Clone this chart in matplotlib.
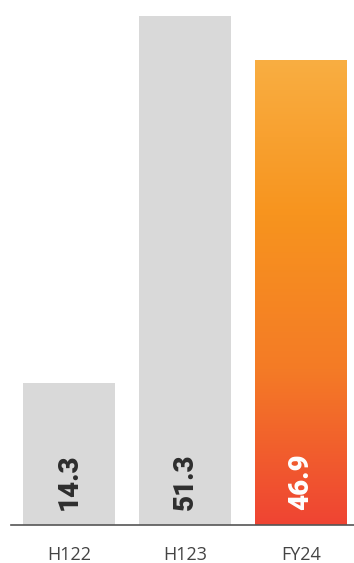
import numpy as np
import matplotlib.pyplot as plt
from matplotlib.colors import LinearSegmentedColormap

categories = ['H122', 'H123', 'FY24']
values = [14.3, 51.3, 46.9]
highlight = 'FY24'

grey = '#d9d9d9'
grad = LinearSegmentedColormap.from_list(
    'fy', ['#ef4433', '#f47b26', '#f7941e', '#f9ae42'])

fig = plt.figure(figsize=(3.54, 5.63), dpi=100)
ax = fig.add_axes([0, 38 / 563, 1, 525 / 563])

x = np.arange(len(categories))
width = 0.793
bars = ax.bar(x, values, width=width, color=grey, zorder=2)

left, right = -69 / 116, 285 / 116
ax.set_xlim(left, right)
ax.set_ylim(0, 52.9)

# gradient fill for the highlighted bar, clipped to the bar shape
for bar, cat in zip(bars, categories):
    if cat != highlight:
        continue
    bar.set_facecolor('none')
    x0, w, h = bar.get_x(), bar.get_width(), bar.get_height()
    grid = np.linspace(0, 1, 256).reshape(-1, 1)
    im = ax.imshow(grid, cmap=grad, origin='lower', aspect='auto',
                   extent=(x0, x0 + w, 0, h), zorder=1)
    im.set_clip_path(bar)

for xi, v, cat in zip(x, values, categories):
    ax.text(xi, 1.5, f'{v:.1f}', rotation=90, ha='center', va='bottom',
            fontsize=20, fontweight='black', family=['Roboto', 'DejaVu Sans'],
            color='white' if cat == highlight else '#2e2e2e', zorder=3)

ax.set_xticks(x)
ax.set_xticklabels(categories, family='Open Sans', fontsize=13, color='#444444')
ax.tick_params(axis='x', length=0, pad=15)
ax.set_yticks([])
for side in ['top', 'right', 'left']:
    ax.spines[side].set_visible(False)
ax.spines['bottom'].set_color('#555555')
ax.spines['bottom'].set_linewidth(1.2)
ax.spines['bottom'].set_bounds(-58 / 116, right)
ax.set_xlim(left, right)

fig.savefig('out.png', dpi=100)
